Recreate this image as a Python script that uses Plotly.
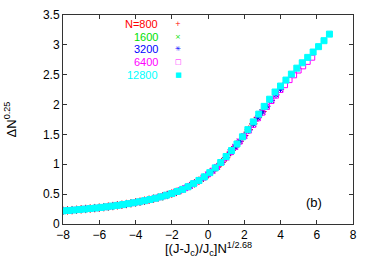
import plotly.graph_objects as go

# ---- data ----
x_grid = [-8.0, -7.75, -7.5, -7.25, -7.0, -6.75, -6.5, -6.25, -6.0, -5.75, -5.5, -5.25,
          -5.0, -4.75, -4.5, -4.25, -4.0, -3.75, -3.5, -3.25, -3.0, -2.75, -2.5, -2.25,
          -2.0, -1.75, -1.5, -1.25, -1.0, -0.75, -0.5, -0.25, 0.0, 0.25, 0.5, 0.75,
          1.0, 1.25, 1.5, 1.75, 2.0, 2.25, 2.5, 2.75, 3.0, 3.25, 3.5, 3.75, 4.0, 4.25,
          4.5, 4.75, 5.0, 5.25, 5.5, 5.75]

y_800 = [0.221, 0.227, 0.232, 0.238, 0.245, 0.252, 0.259, 0.266, 0.274, 0.282, 0.291, 0.301,
         0.312, 0.323, 0.335, 0.347, 0.360, 0.374, 0.390, 0.407, 0.425, 0.443, 0.463, 0.486,
         0.510, 0.537, 0.566, 0.599, 0.636, 0.680, 0.725, 0.775, 0.829, 0.889, 0.954, 1.032,
         1.111, 1.203, 1.294, 1.388, 1.482, 1.580, 1.678, 1.786, 1.884]
y_1600 = [0.221, 0.227, 0.232, 0.238, 0.245, 0.252, 0.259, 0.266, 0.274, 0.282, 0.291, 0.301,
          0.312, 0.323, 0.335, 0.347, 0.360, 0.374, 0.390, 0.407, 0.425, 0.443, 0.463, 0.486,
          0.510, 0.537, 0.566, 0.599, 0.637, 0.681, 0.726, 0.776, 0.830, 0.890, 0.955, 1.033,
          1.112, 1.202, 1.292, 1.386, 1.479, 1.576, 1.674, 1.782, 1.880, 1.976, 2.074]
y_3200 = [0.221, 0.227, 0.232, 0.238, 0.245, 0.252, 0.259, 0.266, 0.274, 0.282, 0.291, 0.301,
          0.312, 0.323, 0.335, 0.347, 0.360, 0.374, 0.390, 0.407, 0.425, 0.443, 0.463, 0.486,
          0.510, 0.537, 0.566, 0.599, 0.637, 0.681, 0.726, 0.776, 0.830, 0.890, 0.955, 1.033,
          1.112, 1.202, 1.291, 1.384, 1.476, 1.573, 1.670, 1.778, 1.876, 1.972, 2.070, 2.163,
          2.255]
y_6400 = [0.222, 0.228, 0.233, 0.239, 0.246, 0.253, 0.260, 0.267, 0.275, 0.283, 0.292, 0.302,
          0.313, 0.324, 0.336, 0.348, 0.361, 0.375, 0.391, 0.408, 0.426, 0.444, 0.464, 0.487,
          0.511, 0.538, 0.567, 0.600, 0.638, 0.682, 0.727, 0.777, 0.832, 0.892, 0.956, 1.034,
          1.113, 1.203, 1.290, 1.380, 1.470, 1.565, 1.660, 1.770, 1.865, 1.960, 2.060, 2.150,
          2.245, 2.325, 2.410, 2.490, 2.570, 2.640, 2.715, 2.785]

x_12800 = [-8.0, -7.7, -7.4, -7.1, -6.8, -6.5, -6.2, -5.9, -5.6, -5.3, -5.0, -4.7, -4.4, -4.1,
           -3.8, -3.5, -3.2, -2.9, -2.6, -2.3, -2.0, -1.7, -1.4, -1.1, -0.8, -0.5, -0.2, 0.1,
           0.4, 0.7, 1.0, 1.3, 1.6, 1.9, 2.2, 2.5, 2.8, 3.1, 3.4, 3.7, 4.0, 4.3, 4.6, 4.9,
           5.2, 5.5, 5.8, 6.1, 6.4, 6.7]
y_12800 = [0.220, 0.227, 0.234, 0.242, 0.250, 0.259, 0.268, 0.278, 0.288, 0.300, 0.312, 0.325,
           0.340, 0.355, 0.372, 0.390, 0.410, 0.432, 0.455, 0.482, 0.510, 0.545, 0.580, 0.625,
           0.675, 0.730, 0.790, 0.860, 0.940, 1.030, 1.130, 1.230, 1.340, 1.460, 1.580, 1.710,
           1.840, 1.970, 2.090, 2.210, 2.310, 2.410, 2.510, 2.610, 2.700, 2.790, 2.880, 2.970,
           3.070, 3.180]

labels = ["N=800", "1600", "3200", "6400", "12800"]
colors = ["#ff0000", "#00e000", "#0000ff", "#ff00ff", "#00ffff"]
legend_symbols = ["+", "\u00d7", "\u2733", "\u25a1", "\u25a0"]

x_ticks = [-8, -6, -4, -2, 0, 2, 4, 6, 8]
y_ticks = [0, 0.5, 1, 1.5, 2, 2.5, 3, 3.5]

series = [
    (x_grid[:len(y_800)], y_800, "cross-thin-open", 6),
    (x_grid[:len(y_1600)], y_1600, "x-thin-open", 5),
    (x_grid[:len(y_3200)], y_3200, "asterisk-open", 6),
    (x_grid[:len(y_6400)], y_6400, "square-open", 5),
    (x_12800, y_12800, "square", 6),
]

FONT = "Liberation Sans, Arial, sans-serif"
fig = go.Figure()
for (xs, ys, sym, size), name, col in zip(series, labels, colors):
    fig.add_trace(go.Scatter(
        x=xs, y=ys, mode="markers", name=name, showlegend=False,
        marker=dict(symbol=sym, size=size, color=col,
                    line=dict(color=col, width=1)),
    ))

# legend drawn as text (labels right-aligned, symbols to the right)
for i, (name, col, s) in enumerate(zip(labels, colors, legend_symbols)):
    ypos = 0.955 - i * 0.06
    fig.add_annotation(x=0.335, y=ypos, xref="paper", yref="paper", text=name,
                       showarrow=False, xanchor="right", yanchor="middle",
                       font=dict(family=FONT, size=11, color=col))
    fig.add_annotation(x=0.398, y=ypos, xref="paper", yref="paper", text=s,
                       showarrow=False, xanchor="center", yanchor="middle",
                       font=dict(family="DejaVu Sans", size=7, color=col))

fig.add_annotation(x=0.865, y=0.105, xref="paper", yref="paper", text="(b)",
                   showarrow=False, xanchor="center", yanchor="middle",
                   font=dict(family=FONT, size=13, color="black"))

# axis titles
fig.add_annotation(x=0.5, y=-0.12, xref="paper", yref="paper",
                   text="[(J-J<sub>c</sub>)/J<sub>c</sub>]N<sup>1/2.68</sup>",
                   showarrow=False, xanchor="center", yanchor="middle",
                   font=dict(family=FONT, size=13, color="black"))
fig.add_annotation(x=-0.183, y=0.5, xref="paper", yref="paper",
                   text="\u0394N<sup>0.25</sup>", textangle=-90,
                   showarrow=False, xanchor="center", yanchor="middle",
                   font=dict(family=FONT, size=13, color="black"))

axis_common = dict(showgrid=False, zeroline=False, showline=True, linecolor="#333",
                   linewidth=1, mirror="ticks", ticks="inside", ticklen=4,
                   tickcolor="#333", automargin=False,
                   tickfont=dict(family=FONT, size=12, color="black"))

fig.update_xaxes(range=[-8, 8], tickvals=x_ticks, **axis_common)
fig.update_yaxes(range=[0, 3.5], tickvals=y_ticks, **axis_common)

fig.update_layout(width=374, height=262, margin=dict(l=63, r=21, t=15, b=38),
                  plot_bgcolor="white", paper_bgcolor="white")

fig.write_html("out.html", config={"displayModeBar": False},
               post_script="document.body.style.margin='0';document.body.style.padding='0';")
